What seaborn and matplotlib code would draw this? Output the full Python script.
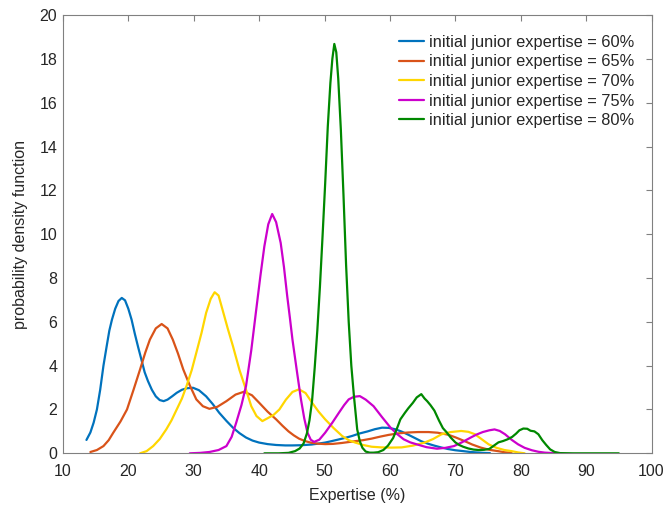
import matplotlib
matplotlib.use("Agg")
import matplotlib.pyplot as plt
import seaborn as sns
import pandas as pd

labels = ["initial junior expertise = 60%", "initial junior expertise = 65%",
          "initial junior expertise = 70%", "initial junior expertise = 75%",
          "initial junior expertise = 80%"]

x60 = [13.6, 14.2, 14.7, 15.2, 15.7, 16.2, 16.7, 17.1, 17.5, 18.0, 18.5, 19.0, 19.5, 20.0, 20.5, 21.0,
       21.5, 22.0, 22.5, 23.0, 23.6, 24.2, 24.8, 25.4, 26.0, 26.7, 27.4, 28.2, 29.0, 29.9, 30.8, 31.9,
       32.9, 33.9, 35.0, 36.0, 37.0, 38.0, 39.0, 40.0, 41.3, 42.6, 44.0, 45.1, 46.5, 48.0, 49.0, 50.1,
       51.0, 52.0, 53.1, 54.2, 55.3, 56.6, 57.7, 58.8, 59.8, 60.8, 61.8, 62.8, 63.8, 64.8, 65.8, 66.8,
       67.8, 68.8, 70.0, 71.2, 72.3, 73.3, 74.3, 75.3]
y60 = [0.61, 0.95, 1.4, 2.0, 2.9, 4.0, 4.9, 5.6, 6.1, 6.6, 6.95, 7.09, 6.98, 6.6, 6.1, 5.45,
       4.85, 4.28, 3.7, 3.3, 2.9, 2.6, 2.43, 2.38, 2.45, 2.6, 2.76, 2.9, 2.97, 2.99, 2.88, 2.6,
       2.25, 1.85, 1.48, 1.17, 0.92, 0.72, 0.58, 0.49, 0.42, 0.38, 0.36, 0.36, 0.37, 0.4, 0.44, 0.49,
       0.55, 0.62, 0.7, 0.79, 0.9, 1.0, 1.1, 1.17, 1.16, 1.1, 0.99, 0.85, 0.7, 0.55, 0.44, 0.35,
       0.27, 0.2, 0.14, 0.1, 0.06, 0.04, 0.02, 0.01]

x65 = [14.2, 15.2, 16.2, 17.0, 17.7, 18.8, 19.8, 20.8, 21.8, 22.6, 23.3, 24.2, 25.1, 26.0, 26.8, 27.6,
       28.4, 29.4, 30.4, 31.4, 32.4, 33.6, 35.0, 36.4, 37.7, 38.9, 40.0, 41.3, 42.6, 43.6, 44.5, 45.3,
       46.1, 47.0, 48.0, 49.0, 50.1, 51.3, 52.6, 54.1, 55.9, 57.2, 58.5, 59.8, 61.3, 62.8, 64.3, 65.9,
       67.3, 68.9, 70.1, 71.4, 72.6, 73.9, 75.2, 76.5, 77.5, 78.6]
y65 = [0.06, 0.15, 0.33, 0.6, 0.94, 1.45, 2.0, 2.9, 3.83, 4.6, 5.19, 5.7, 5.9, 5.7, 5.19, 4.55,
       3.83, 3.1, 2.46, 2.15, 2.03, 2.12, 2.38, 2.68, 2.81, 2.65, 2.31, 1.9, 1.55, 1.25, 1.0, 0.82,
       0.67, 0.56, 0.48, 0.44, 0.42, 0.43, 0.47, 0.53, 0.6, 0.67, 0.76, 0.84, 0.91, 0.95, 0.97, 0.97,
       0.94, 0.85, 0.72, 0.56, 0.4, 0.26, 0.16, 0.1, 0.05, 0.02]

x70 = [21.8, 22.8, 23.8, 24.8, 25.8, 26.6, 27.4, 28.2, 28.9, 29.7, 30.4, 31.2, 31.9, 32.6, 33.2, 33.8,
       34.4, 35.2, 36.0, 37.0, 38.0, 38.8, 39.6, 40.5, 41.3, 42.2, 43.1, 44.1, 45.1, 46.1, 47.1, 48.1,
       49.1, 50.1, 51.4, 52.7, 53.7, 54.7, 55.9, 57.2, 58.7, 60.2, 61.8, 63.5, 65.3, 66.6, 67.9, 69.3,
       70.9, 72.0, 73.0, 74.0, 75.1, 76.3, 77.5, 78.6, 79.6, 80.6]
y70 = [0.0, 0.1, 0.33, 0.65, 1.09, 1.5, 2.0, 2.5, 3.07, 3.8, 4.59, 5.5, 6.41, 7.05, 7.35, 7.2,
       6.56, 5.7, 4.89, 3.8, 2.9, 2.15, 1.7, 1.47, 1.6, 1.75, 2.0, 2.45, 2.8, 2.92, 2.75, 2.31,
       1.9, 1.55, 1.15, 0.79, 0.6, 0.49, 0.38, 0.3, 0.27, 0.26, 0.27, 0.35, 0.49, 0.65, 0.87, 0.97,
       1.02, 0.98, 0.87, 0.65, 0.41, 0.25, 0.15, 0.1, 0.04, 0.0]

x75 = [29.4, 31.0, 32.4, 33.8, 35.0, 35.8, 36.5, 37.3, 38.0, 38.8, 39.5, 40.2, 40.8, 41.4, 42.0, 42.6,
       43.3, 43.8, 44.3, 44.7, 45.1, 45.8, 46.4, 46.9, 47.4, 47.9, 48.4, 49.2, 50.1, 51.2, 52.2, 53.0,
       53.7, 54.5, 55.4, 56.3, 57.5, 58.8, 60.1, 61.1, 62.1, 63.1, 64.1, 65.6, 67.2, 68.5, 69.8, 71.0,
       72.3, 73.2, 74.2, 75.2, 76.0, 76.8, 77.6, 78.6, 79.6, 80.6, 81.7, 82.7, 83.7, 85.5]
y75 = [0.0, 0.02, 0.06, 0.15, 0.33, 0.75, 1.4, 2.2, 3.07, 4.7, 6.41, 8.1, 9.44, 10.45, 10.92, 10.55,
       9.6, 8.5, 7.17, 6.2, 5.19, 3.7, 2.46, 1.6, 0.94, 0.62, 0.52, 0.62, 0.94, 1.4, 1.85, 2.2,
       2.46, 2.58, 2.61, 2.45, 2.15, 1.65, 1.17, 0.88, 0.64, 0.5, 0.41, 0.28, 0.21, 0.25, 0.33, 0.5,
       0.71, 0.85, 0.97, 1.05, 1.09, 1.02, 0.87, 0.62, 0.41, 0.25, 0.14, 0.07, 0.03, 0.0]

x80 = [40.8, 43.0, 44.5, 45.5, 46.2, 46.8, 47.3, 47.7, 48.1, 48.5, 48.9, 49.3, 49.7, 50.1, 50.5, 50.9,
       51.2, 51.5, 51.8, 52.1, 52.5, 52.9, 53.3, 53.7, 54.1, 54.5, 55.0, 55.4, 55.8, 56.3, 56.9, 57.5,
       58.2, 59.0, 59.7, 60.5, 61.1, 61.6, 62.3, 62.8, 63.5, 64.1, 64.8, 65.3, 65.7, 66.2, 66.8, 67.5,
       68.1, 68.7, 69.3, 70.0, 70.6, 71.2, 72.0, 72.8, 73.6, 74.4, 75.2, 75.9, 76.6, 77.3, 78.0, 78.7,
       79.3, 79.8, 80.4, 81.0, 81.5, 82.1, 82.7, 83.3, 83.9, 84.5, 85.2, 86.0, 88.0, 91.0, 95.0]
y80 = [0.0, 0.0, 0.02, 0.1, 0.22, 0.45, 0.9, 1.5, 2.4, 3.9, 5.6, 7.6, 9.9, 12.3, 14.9, 16.9,
       18.0, 18.68, 18.3, 17.1, 14.76, 11.8, 8.6, 6.0, 4.0, 2.61, 1.09, 0.55, 0.25, 0.08, 0.03, 0.03,
       0.05, 0.15, 0.35, 0.7, 1.15, 1.55, 1.85, 2.05, 2.3, 2.55, 2.7, 2.5, 2.38, 2.2, 1.95, 1.5,
       1.15, 0.95, 0.72, 0.5, 0.38, 0.3, 0.22, 0.17, 0.15, 0.16, 0.2, 0.35, 0.5, 0.56, 0.64, 0.75,
       0.9, 1.05, 1.13, 1.12, 1.03, 1.0, 0.87, 0.6, 0.38, 0.18, 0.06, 0.01, 0.0, 0.0, 0.0]

colors = ["#0072BD", "#D95319", "#FFD600", "#CC00CC", "#008800"]

frames = []
for lab, xs, ys in zip(labels, [x60, x65, x70, x75, x80], [y60, y65, y70, y75, y80]):
    frames.append(pd.DataFrame({"x": xs, "y": ys, "series": lab}))
df = pd.concat(frames, ignore_index=True)

sns.set_style("white")
plt.rcParams["font.family"] = ["Liberation Sans", "DejaVu Sans"]

fig = plt.figure(figsize=(6.65, 5.11), dpi=100)
ax = fig.add_axes([0.0946, 0.1129, 0.8851, 0.8577])

sns.lineplot(data=df, x="x", y="y", hue="series", hue_order=labels, palette=colors,
             sort=False, estimator=None, linewidth=1.6, ax=ax)
for ln in ax.get_lines():
    ln.set_solid_joinstyle("round")
    ln.set_solid_capstyle("round")

ax.set_xlim(10, 100)
ax.set_ylim(0, 20)
ax.set_xticks(range(10, 101, 10))
ax.set_yticks(range(0, 21, 2))
ax.set_xlabel("Expertise (%)", fontsize=11.5, color="#262626", labelpad=6)
ax.set_ylabel("probability density function", fontsize=11.5, color="#262626", labelpad=8)
ax.tick_params(direction="in", top=True, right=True, length=4, width=0.8,
               colors="#808080", labelcolor="#262626", labelsize=11.5)
ax.tick_params(axis="x", pad=8)
ax.tick_params(axis="y", pad=4)
for s in ax.spines.values():
    s.set_color("#808080")
    s.set_linewidth(0.8)

ax.legend(loc="upper right", bbox_to_anchor=(0.97, 0.955), frameon=False, fontsize=11.8,
          handlelength=1.55, handletextpad=0.25, labelspacing=0.28, borderaxespad=0.0,
          borderpad=0.0)

fig.savefig("out.png", dpi=100)
